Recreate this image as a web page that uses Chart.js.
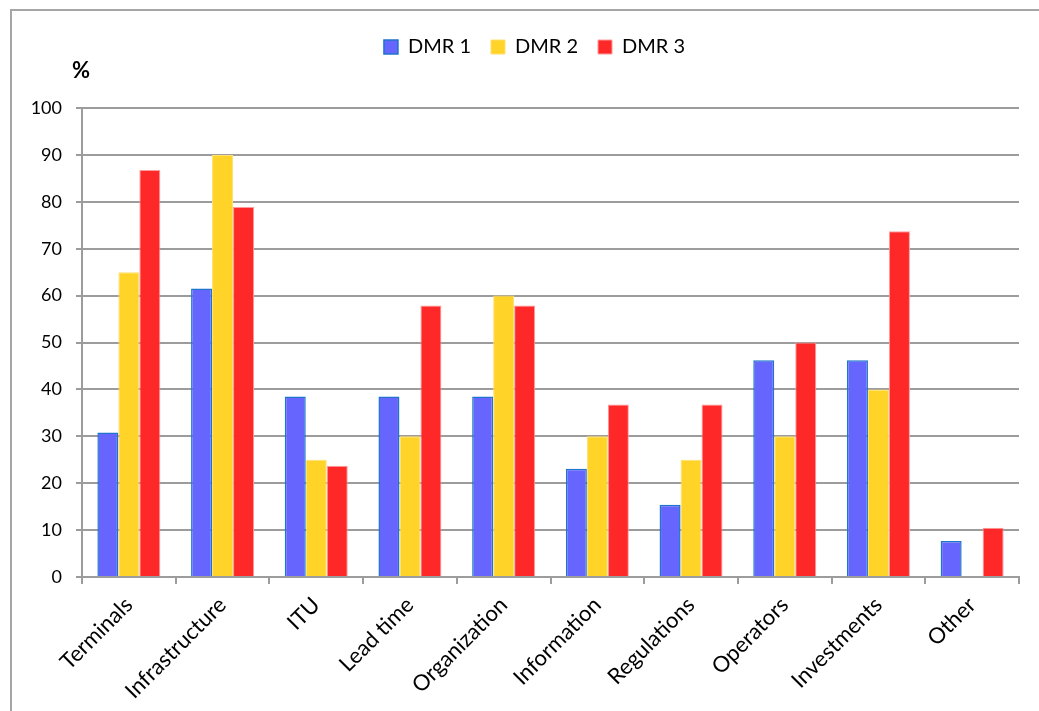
<!DOCTYPE html>
<html>
<head>
<meta charset="utf-8">
<script src="https://cdn.jsdelivr.net/npm/chart.js@4"></script>
<style>
  html, body { margin: 0; padding: 0; background: #fff; }
  #wrap { position: relative; width: 1039px; height: 711px; overflow: hidden; }
  #frame { position: absolute; left: 10px; top: 9px; width: 1200px; height: 800px;
           border-left: 2px solid #a6a6a6; border-top: 2px solid #a6a6a6; }
  #c { position: absolute; left: 0; top: 0; }
</style>
</head>
<body>
<div id="wrap">
  <div id="frame"></div>
  <canvas id="c" width="1039" height="711"></canvas>
</div>
<script>
// Share of respondents (%) naming each barrier, per survey round
const categories = ['Terminals', 'Infrastructure', 'ITU', 'Lead time', 'Organization',
                    'Information', 'Regulations', 'Operators', 'Investments', 'Other'];
const dmr1 = [30.8, 61.5, 38.5, 38.5, 38.5, 23.1, 15.4, 46.2, 46.2, 7.7];
const dmr2 = [65, 90, 25, 30, 60, 30, 25, 30, 40, 0];
const dmr3 = [86.8, 78.9, 23.7, 57.9, 57.9, 36.8, 36.8, 50.0, 73.7, 10.5];
const seriesNames = ['DMR 1', 'DMR 2', 'DMR 3'];
const yTicks = [0, 10, 20, 30, 40, 50, 60, 70, 80, 90, 100];

const FONT = 'Lato, "Open Sans", sans-serif';
const GRID = '#9c9c9c';

// Extra space under the legend, and legend centred a little right of the canvas middle
const legendPlacement = {
  id: 'legendPlacement',
  beforeInit(chart) {
    const fit = chart.legend.fit;
    chart.legend.fit = function () {
      fit.bind(chart.legend)();
      this.height += 41;
    };
  },
  afterLayout(chart) {
    chart.legend.left += 50;
  }
};

// "%" unit label above the value axis
const unitLabel = {
  id: 'unitLabel',
  afterDraw(chart) {
    const ctx = chart.ctx;
    ctx.save();
    ctx.font = 'bold 22px ' + FONT;
    ctx.fillStyle = '#000';
    ctx.textAlign = 'center';
    ctx.textBaseline = 'middle';
    ctx.fillText('%', 81, 71);
    ctx.restore();
  }
};

new Chart(document.getElementById('c'), {
  type: 'bar',
  data: {
    labels: categories,
    datasets: [
      { label: seriesNames[0], data: dmr1, backgroundColor: '#6666ff', borderColor: '#1f74cc', borderWidth: 1.5 },
      { label: seriesNames[1], data: dmr2, backgroundColor: '#ffd327', borderColor: '#ffe070', borderWidth: 1 },
      { label: seriesNames[2], data: dmr3, backgroundColor: '#ff2828', borderColor: '#ff9a9a', borderWidth: 1 }
    ]
  },
  options: {
    responsive: false,
    animation: false,
    devicePixelRatio: 1,
    layout: { padding: { left: 0, right: 20, top: 17, bottom: 0 } },
    datasets: { bar: { categoryPercentage: 0.672, barPercentage: 1.0 } },
    plugins: {
      legend: {
        position: 'top',
        labels: {
          font: { family: FONT, size: 20 },
          color: '#000',
          boxWidth: 14,
          boxHeight: 14,
          padding: 20
        }
      },
      tooltip: { enabled: false }
    },
    scales: {
      x: {
        afterFit(scale) { scale.height = 134; },
        grid: { drawOnChartArea: false, drawTicks: true, tickLength: 7, color: GRID, lineWidth: 2, offset: true },
        border: { color: GRID, width: 2 },
        ticks: {
          font: { family: FONT, size: 22 },
          color: '#000',
          minRotation: 45,
          maxRotation: 45,
          padding: 8,
          autoSkip: false
        }
      },
      y: {
        min: 0,
        max: 100,
        afterFit(scale) { scale.width = 82; },
        afterBuildTicks(scale) { scale.ticks = yTicks.map(v => ({ value: v })); },
        grid: { color: GRID, lineWidth: 2, tickLength: 6 },
        border: { color: GRID, width: 2 },
        ticks: {
          font: { family: FONT, size: 18 },
          color: '#000',
          padding: 14
        }
      }
    }
  },
  plugins: [legendPlacement, unitLabel]
});
</script>
</body>
</html>
